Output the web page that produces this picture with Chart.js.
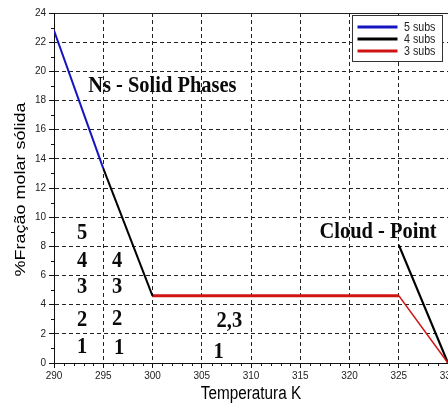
<!DOCTYPE html>
<html><head><meta charset="utf-8">
<script src="https://cdn.jsdelivr.net/npm/chart.js@4.4.1/dist/chart.umd.min.js"></script>
<style>html,body{margin:0;padding:0;background:#fff;overflow:hidden}#wrap{width:448px;height:403px;position:relative}</style>
</head><body><div id="wrap"><canvas id="c"></canvas></div>
<script>
const seriesLabels = ['5 subs', '4 subs', '3 subs'];
const temp5 = [290, 295];
const frac5 = [22.8, 13.35];
const temp4 = [295, 300];
const frac4 = [13.35, 4.6];
const temp3 = [300, 325, 330];
const frac3 = [4.62, 4.62, 0];
const tempCloud = [325, 330];
const fracCloud = [8.1, 0];
const xTicks = [290, 295, 300, 305, 310, 315, 320, 325, 330];
const yTicks = [0, 2, 4, 6, 8, 10, 12, 14, 16, 18, 20, 22, 24];
const noteTexts = ['Ns - Solid Phases', 'Cloud - Point', '5', '4', '3', '2', '1', '4', '3', '2', '1', '2,3', '1'];
const noteX = [301.0, 322.9, 292.85, 292.85, 292.85, 292.85, 292.85, 296.4, 296.4, 296.4, 296.6, 307.8, 306.7];
const noteY = [18.6, 8.54, 8.49, 6.59, 4.78, 2.51, 0.68, 6.59, 4.78, 2.58, 0.59, 2.47, 0.36];
const xTitle = 'Temperatura K';
const yTitle = '%Fração molar sólida';

const pts = (xs, ys) => xs.map((v, i) => ({x: v, y: ys[i]}));
const colors = ['#1414c0', '#000000', '#d01414'];

const decor = {
  id: 'decor',
  afterDraw(chart) {
    const {ctx, chartArea: a} = chart;
    const x = chart.scales.x, y = chart.scales.y;
    ctx.save();
    // minor ticks
    ctx.strokeStyle = '#111'; ctx.lineWidth = 1;
    ctx.beginPath();
    for (let v = 291; v < 330; v++) {
      if (v % 5 === 0) continue;
      const px = Math.round(x.getPixelForValue(v)) + 0.5;
      ctx.moveTo(px, a.bottom); ctx.lineTo(px, a.bottom + 3);
    }
    for (let v = 1; v < 24; v += 2) {
      const py = Math.round(y.getPixelForValue(v)) + 0.5;
      ctx.moveTo(a.left, py); ctx.lineTo(a.left - 3, py);
    }
    ctx.stroke();
    // annotations
    ctx.fillStyle = '#0a0a0a';
    ctx.font = 'bold 23px "Liberation Serif"';
    ctx.textAlign = 'center'; ctx.textBaseline = 'alphabetic';
    noteTexts.forEach((t, i) => {
      ctx.save();
      ctx.translate(x.getPixelForValue(noteX[i]), y.getPixelForValue(noteY[i]));
      ctx.scale(0.89, 1);
      ctx.fillText(t, 0, 0);
      ctx.restore();
    });
    // axis titles
    ctx.font = '18px "Liberation Sans"';
    ctx.fillStyle = '#000';
    ctx.save();
    ctx.translate((a.left + a.right) / 2, 399);
    ctx.scale(0.85, 1);
    ctx.textBaseline = 'alphabetic';
    ctx.fillText(xTitle, 0, 0);
    ctx.restore();
    ctx.save();
    ctx.translate(21, (a.top + a.bottom) / 2 + 1.5);
    ctx.rotate(-Math.PI / 2);
    ctx.scale(1, 0.85);
    ctx.textBaseline = 'middle';
    ctx.fillText(yTitle, 0, 0);
    ctx.restore();
    // legend
    const bx = a.right - 95.5, by = a.top + 2.5, bw = 90, bh = 46;
    ctx.fillStyle = '#fff'; ctx.fillRect(bx, by, bw, bh);
    ctx.strokeStyle = '#333'; ctx.lineWidth = 1; ctx.strokeRect(bx, by, bw, bh);
    ctx.font = '13px "Liberation Sans"'; ctx.textAlign = 'left'; ctx.textBaseline = 'middle';
    seriesLabels.forEach((lab, i) => {
      const ly = by + 11.5 + 12 * i;
      ctx.strokeStyle = colors[i]; ctx.lineWidth = 3;
      ctx.beginPath(); ctx.moveTo(bx + 5, ly); ctx.lineTo(bx + 45, ly); ctx.stroke();
      ctx.save(); ctx.translate(bx + 51.5, ly + 0.5); ctx.scale(0.82, 1);
      ctx.fillStyle = '#222'; ctx.fillText(lab, 0, 0); ctx.restore();
    });
    ctx.restore();
  }
};

const gridColorX = c => (c.tick && c.tick.value === 290) ? 'rgba(0,0,0,0)' : '#222';
const gridColorY = c => (c.tick && c.tick.value === 0) ? 'rgba(0,0,0,0)' : '#222';

new Chart(document.getElementById('c'), {
  type: 'line',
  data: {
    datasets: [
      {label: seriesLabels[0], data: pts(temp5, frac5), borderColor: colors[0], borderWidth: 2},
      {label: seriesLabels[1], data: pts(temp4, frac4), borderColor: colors[1], borderWidth: 2},
      {label: seriesLabels[2], data: pts(temp3, frac3), borderColor: colors[2], borderWidth: 3,
        segment: {borderWidth: c => c.p0.parsed.x >= 325 ? 1.6 : 3}},
      {label: 'cloud', data: pts(tempCloud, fracCloud), borderColor: colors[1], borderWidth: 2.2}
    ]
  },
  options: {
    responsive: true, maintainAspectRatio: false, animation: false,
    layout: {padding: {left: 0, top: 13, right: 0, bottom: 0}},
    elements: {point: {radius: 0}, line: {tension: 0}},
    plugins: {legend: {display: false}, tooltip: {enabled: false}},
    scales: {
      x: {
        type: 'linear', min: 290, max: 330,
        afterBuildTicks: s => { s.ticks = xTicks.map(v => ({value: v})); },
        afterFit: s => { s.height = 40; s.paddingRight = 0; s.paddingLeft = 0; },
        ticks: {font: {family: 'Liberation Sans', size: 10}, color: '#222', padding: 2, maxRotation: 0, autoSkip: false},
        grid: {color: gridColorX, lineWidth: 1, tickColor: '#111', tickLength: 5},
        border: {color: '#111', width: 1, dash: c => (c.tick && c.tick.value === 330) ? [] : [4, 3]}
      },
      y: {
        min: 0, max: 24,
        afterBuildTicks: s => { s.ticks = yTicks.map(v => ({value: v})); },
        afterFit: s => { s.width = 54; },
        ticks: {font: {family: 'Liberation Sans', size: 10}, color: '#222', padding: 3, autoSkip: false},
        grid: {color: gridColorY, lineWidth: 1, tickColor: '#111', tickLength: 5},
        border: {color: '#111', width: 1, dash: c => (c.tick && c.tick.value === 24) ? [] : [4, 3]}
      }
    }
  },
  plugins: [decor]
});
</script></body></html>
